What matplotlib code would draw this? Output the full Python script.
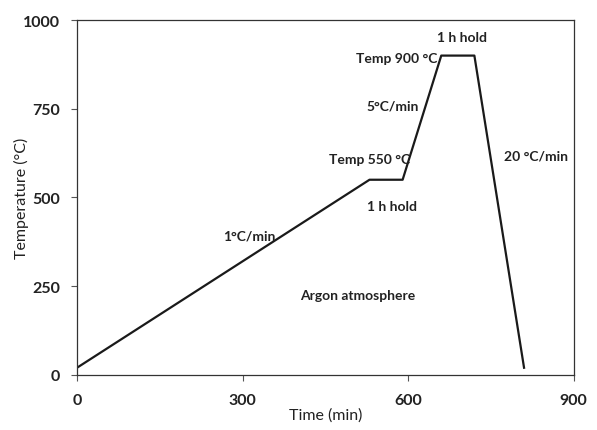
import matplotlib
matplotlib.use("Agg")
import matplotlib.pyplot as plt

time_min = [0, 530, 590, 660, 720, 810]
temp_c = [20, 550, 550, 900, 900, 20]

xticks = [0, 300, 600, 900]
yticks = [0, 250, 500, 750, 1000]

labels = ["1 h hold", "Temp 900 °C", "5°C/min", "Temp 550 °C", "1 h hold",
          "20 °C/min", "1°C/min", "Argon atmosphere"]
label_x = [697, 580, 572, 530, 570, 831, 313, 509]
label_y = [952, 893, 759, 608, 477, 617, 392, 225]

plt.rcParams['font.family'] = ['Lato', 'DejaVu Sans']

fig = plt.figure(figsize=(5.97, 4.31), dpi=100)
ax = fig.add_axes([0.129, 0.128, 0.832, 0.823])
ax.plot(time_min, temp_c, color='#1a1a1a', lw=1.6)
ax.set_xlim(0, 900)
ax.set_ylim(0, 1000)
ax.set_xticks(xticks)
ax.set_yticks(yticks)
ax.tick_params(direction='out', length=4, width=0.8, colors='#555555', labelcolor='#222222', labelsize=11.5, pad=8)
for t in ax.get_xticklabels() + ax.get_yticklabels():
    t.set_fontweight('bold')
ax.tick_params(axis='x', pad=9)
for s in ax.spines.values():
    s.set_color('#333333')
    s.set_linewidth(0.9)
ax.set_xlabel("Time (min)", fontsize=11.5, color='#222222', labelpad=0)
ax.set_ylabel("Temperature (°C)", fontsize=11.5, color='#222222', labelpad=-4)
for txt, x, y in zip(labels, label_x, label_y):
    ax.text(x, y, txt, ha='center', va='center', fontsize=10, fontweight='bold', color='#222222')

fig.savefig("out.png", dpi=100)
